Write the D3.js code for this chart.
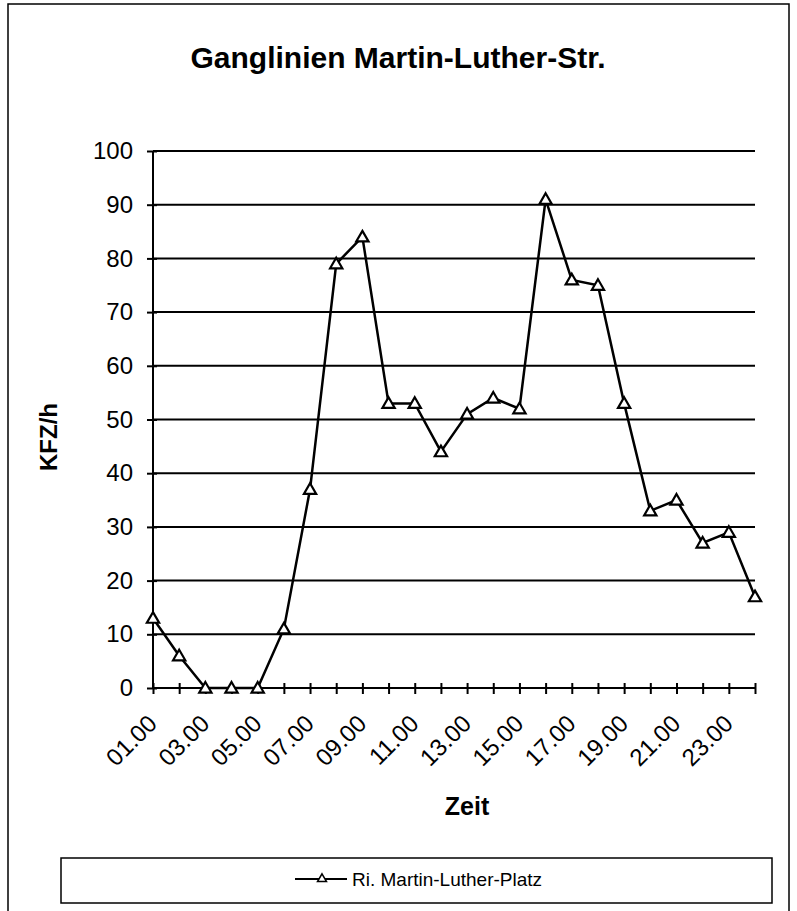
<!DOCTYPE html>
<html><head><meta charset="utf-8">
<script src="https://cdn.jsdelivr.net/npm/d3@7"></script>
<style>body{margin:0;background:#fff}svg{display:block}text{font-family:"Liberation Sans",Arial,Helvetica,sans-serif;fill:#000}</style>
</head><body><svg id="c" width="797" height="911"></svg>
<script>
const categories = ["01.00","02.00","03.00","04.00","05.00","06.00","07.00","08.00","09.00","10.00","11.00","12.00","13.00","14.00","15.00","16.00","17.00","18.00","19.00","20.00","21.00","22.00","23.00","24.00"];
const values = [13,6,0,0,0,11,37,79,84,53,53,44,51,54,52,91,76,75,53,33,35,27,29,17];
const yTicks = [0,10,20,30,40,50,60,70,80,90,100];
const xLabels = ["01.00","03.00","05.00","07.00","09.00","11.00","13.00","15.00","17.00","19.00","21.00","23.00"];
const seriesName = "Ri. Martin-Luther-Platz";
const title = "Ganglinien Martin-Luther-Str.";

const svg = d3.select("#c");
// outer frame
svg.append("rect").attr("x",8).attr("y",4).attr("width",781).attr("height",920)
  .attr("fill","none").attr("stroke","#000").attr("stroke-width",1.5);

const x = d3.scalePoint().domain(categories).range([153,755]);
const y = d3.scaleLinear().domain([0,100]).range([688,151]);

svg.append("text").attr("x",398).attr("y",68).attr("text-anchor","middle")
  .attr("font-size",30).attr("font-weight","bold").text(title);

// gridlines
svg.append("g").selectAll("line").data(yTicks.filter(d=>d>0)).join("line")
  .attr("x1",153).attr("x2",755).attr("y1",d=>y(d)).attr("y2",d=>y(d))
  .attr("stroke","#000").attr("stroke-width",2);

// y axis
const ya = svg.append("g").attr("transform","translate(153,0)")
  .call(d3.axisLeft(y).tickValues(yTicks).tickSize(6).tickPadding(14).tickFormat(d3.format("d")));
ya.select(".domain").attr("stroke","#000").attr("stroke-width",2).attr("d","M0,151V688");
ya.selectAll(".tick line").attr("stroke","#000").attr("stroke-width",2).attr("x1",4);
ya.selectAll(".tick text").attr("font-size",24).attr("font-family","Liberation Sans, Arial").attr("fill","#000");

// x axis
const xa = svg.append("g").attr("transform","translate(0,688)")
  .call(d3.axisBottom(x).tickSize(6).tickFormat(d=>xLabels.includes(d)?d:""));
xa.select(".domain").attr("stroke","#000").attr("stroke-width",2).attr("d","M153,0H755");
xa.selectAll(".tick line").attr("stroke","#000").attr("stroke-width",2).attr("y1",-5);
xa.selectAll(".tick text").attr("font-size",24).attr("font-family","Liberation Sans, Arial").attr("fill","#000")
  .attr("text-anchor","end").attr("dy",null).attr("y",0)
  .attr("transform","translate(5,37) rotate(-45)");

// axis titles
svg.append("text").attr("transform","translate(57,437) rotate(-90)").attr("text-anchor","middle")
  .attr("font-size",24).attr("font-weight","bold").text("KFZ/h");
svg.append("text").attr("x",467).attr("y",815).attr("text-anchor","middle")
  .attr("font-size",25).attr("font-weight","bold").text("Zeit");

// line
svg.append("path").datum(values).attr("fill","none").attr("stroke","#000").attr("stroke-width",2.5)
  .attr("d",d3.line().x((d,i)=>x(categories[i])).y(d=>y(d)));

const tri = d3.symbol().type(d3.symbolTriangle).size(65);
svg.append("g").selectAll("path").data(values).join("path")
  .attr("transform",(d,i)=>`translate(${x(categories[i])},${y(d)+1})`)
  .attr("d",tri).attr("fill","#fff").attr("stroke","#000").attr("stroke-width",2.2);

// legend
svg.append("rect").attr("x",61).attr("y",858).attr("width",711).attr("height",45)
  .attr("fill","#fff").attr("stroke","#000").attr("stroke-width",1.5);
svg.append("line").attr("x1",295).attr("x2",347).attr("y1",879).attr("y2",879).attr("stroke","#000").attr("stroke-width",2);
svg.append("path").attr("d",d3.symbol().type(d3.symbolTriangle).size(35)).attr("transform","translate(322,879)")
  .attr("fill","#fff").attr("stroke","#000").attr("stroke-width",1.5);
svg.append("text").attr("x",352).attr("y",886).attr("font-size",19).text(seriesName);
</script></body></html>
